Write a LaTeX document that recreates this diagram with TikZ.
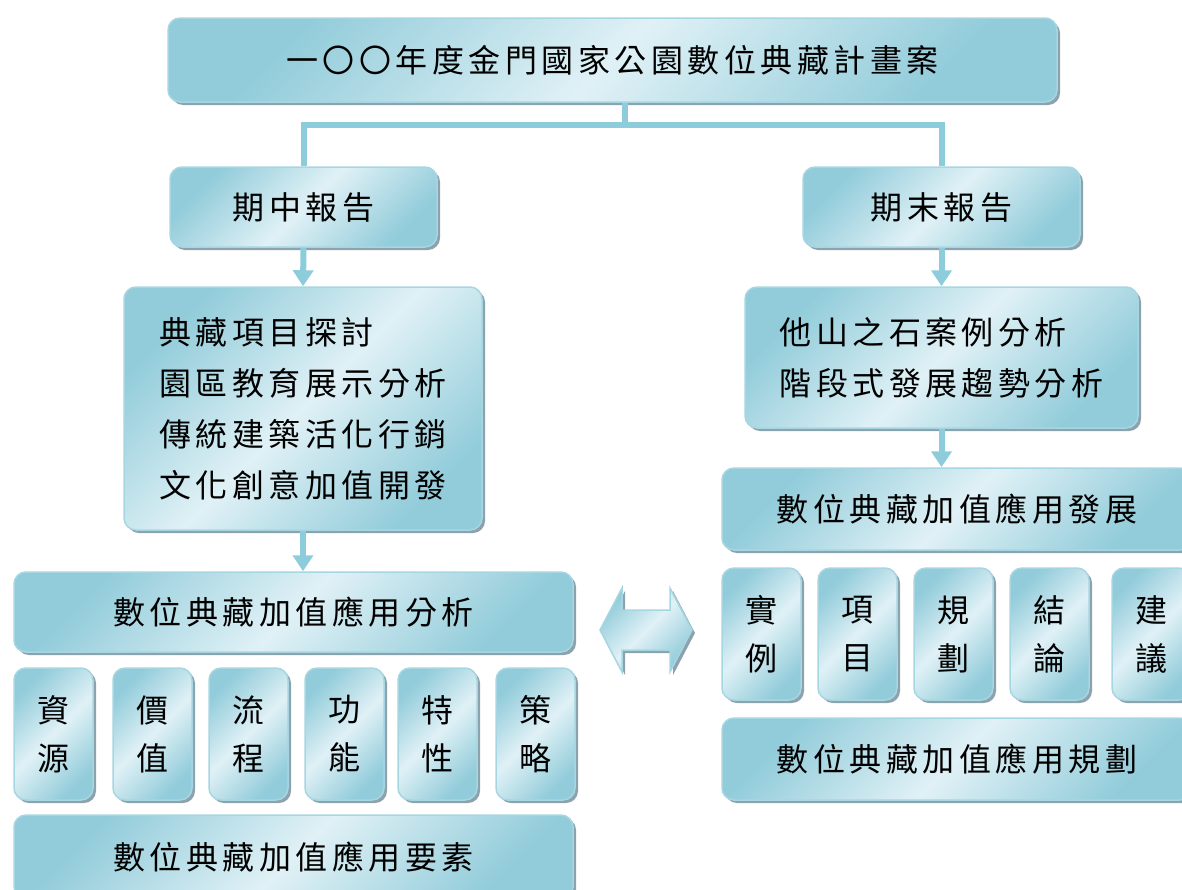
\documentclass[tikz,border=0pt]{standalone}
\usepackage{fontspec}
\newfontfamily\cjk[LetterSpace=14]{Noto Sans CJK TC}
\usetikzlibrary{arrows.meta,shadows}
\definecolor{boxdark}{RGB}{146,204,218}
\definecolor{boxlight}{RGB}{224,241,246}
\definecolor{boxedge}{RGB}{166,214,226}
\definecolor{linkblue}{RGB}{140,204,219}
\definecolor{shadowgray}{RGB}{140,162,172}

\tikzset{
  panel/.style={draw=boxedge, line width=1.5pt, rounded corners=12pt,
    left color=boxdark, right color=boxdark, middle color=boxlight, shading angle=45,
    drop shadow={shadow xshift=3pt, shadow yshift=-3pt, fill=shadowgray, opacity=1},
    font=\cjk\fontsize{32}{51}\selectfont, text=black, inner sep=0pt},
  tile/.style={panel, minimum width=79pt, minimum height=132pt, align=center,
    font=\cjk\fontsize{32}{48}\selectfont},
  link/.style={linkblue, line width=6pt},
  flow/.style={link, -{Triangle[width=20pt,length=16pt]}}
}

\begin{document}
\begin{tikzpicture}[x=1pt,y=-1pt]
    \useasboundingbox (0,0) rectangle (1182,889);
    \clip (0,0) rectangle (1182,889);

    % title
    \node[panel, minimum width=889pt, minimum height=84pt] at (612.5,60) (plan) {一〇〇年度金門國家公園數位典藏計畫案};

    % reports
    \node[panel, minimum width=267pt, minimum height=80pt] at (303.5,207) (mid) {期中報告};
    \node[panel, minimum width=277pt, minimum height=80pt] at (941.5,207) (fin) {期末報告};

    % left branch
    \node[panel, minimum width=358pt, minimum height=243pt, align=left] at (303,408.5) (midlist)
        {典藏項目探討\\園區教育展示分析\\傳統建築活化行銷\\文化創意加值開發};
    \node[panel, minimum width=559pt, minimum height=80pt] at (293.5,612) (anal) {數位典藏加值應用分析};
    \node[tile] at (53.5,734) (res) {資\\源};
    \node[tile] at (152.5,734) (val) {價\\值};
    \node[tile] at (248.5,734) (proc) {流\\程};
    \node[tile] at (344.5,734) (func) {功\\能};
    \node[tile] at (437.5,734) (feat) {特\\性};
    \node[tile] at (535.5,734) (strat) {策\\略};
    \node[panel, minimum width=559pt, minimum height=84pt] at (293.5,857) (elem) {數位典藏加值應用要素};

    % right branch
    \node[panel, minimum width=393pt, minimum height=141pt, align=left] at (941.5,357.5) (finlist)
        {他山之石案例分析\\階段式發展趨勢分析};
    \node[panel, minimum width=470pt, minimum height=82pt] at (957,509) (dev) {數位典藏加值應用發展};
    \node[tile] at (761.5,634) (case) {實\\例};
    \node[tile] at (857.5,634) (item) {項\\目};
    \node[tile] at (953.5,634) (plng) {規\\劃};
    \node[tile] at (1049.5,634) (concl) {結\\論};
    \node[tile] at (1151.5,634) (sugg) {建\\議};
    \node[panel, minimum width=470pt, minimum height=82pt] at (957,759) (appl) {數位典藏加值應用規劃};

    % two-way arrow
    \path[panel, sharp corners] (600,630) -- (622,588) -- (622,610) -- (670,610) -- (670,588)
        -- (692,630) -- (670,672) -- (670,650) -- (622,650) -- (622,672) -- cycle;

    % connectors
    \coordinate (split) at (625,125);
    \draw[link] (split |- plan.south) -- (split);
    \draw[link] (mid.north) |- (split) -| (fin.north);
    \draw[flow] (mid.south) -- (midlist.north);
    \draw[flow] (midlist.south) -- (midlist.south |- anal.north);
    \draw[flow] (fin.south) -- (finlist.north);
    \draw[flow] (finlist.south) -- (finlist.south |- dev.north);
\end{tikzpicture}
\end{document}
